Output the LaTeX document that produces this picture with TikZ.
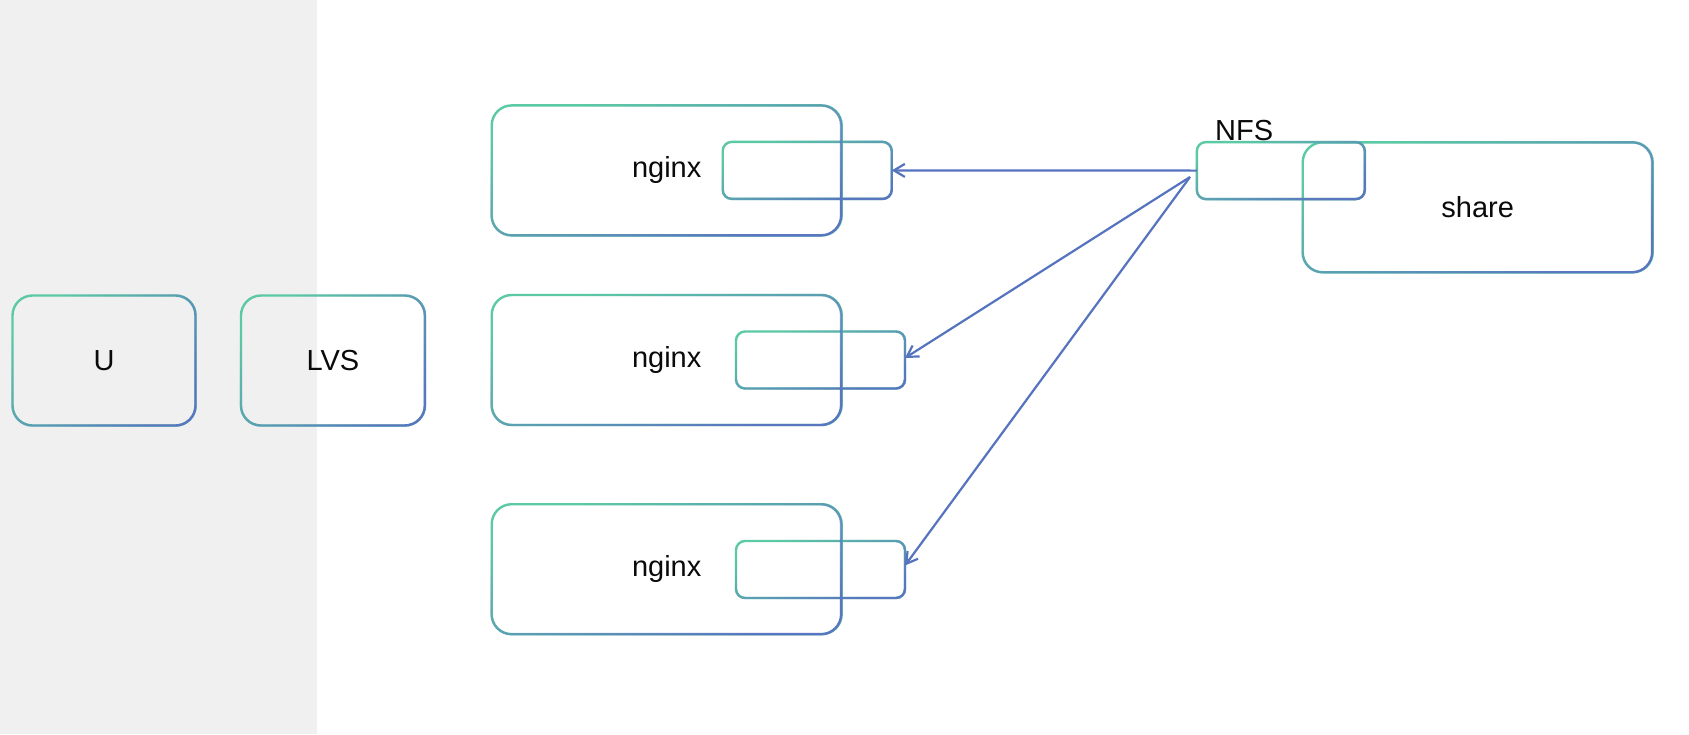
\documentclass[tikz,border=0pt]{standalone}
\usepackage{fontspec}
\setmainfont{Liberation Sans}
\usetikzlibrary{arrows.meta,fadings}
\definecolor{boxgreen}{HTML}{5CC9A5}
\definecolor{boxblue}{HTML}{5A76C0}
\definecolor{arrblue}{HTML}{5573BF}
\definecolor{bggray}{HTML}{F0F0F0}
\definecolor{txt}{HTML}{0A0A0A}
\tikzfading[name=tlbr, left color=transparent!100, right color=transparent!0]
\begin{document}
\begin{tikzpicture}[x=1pt,y=1pt,
  bigbox/.style={rectangle, draw=boxgreen, line width=2.4pt, rounded corners=20pt,
    inner sep=0pt, outer sep=0pt, minimum width=350pt, minimum height=130pt,
    font=\fontsize{29}{34}\selectfont, text=txt},
  smallbox/.style={rectangle, draw=boxgreen, line width=2.4pt, rounded corners=9pt,
    inner sep=0pt, outer sep=0pt, minimum width=169pt, minimum height=57pt},
  blueedge/.style={draw=boxblue, line width=2.4pt, path fading=tlbr, fading angle=-40},
  arr/.style={draw=arrblue, line width=2.2pt,
    -{Straight Barb[length=11pt, width=13pt]}},
  lbl/.style={font=\fontsize{29}{34}\selectfont, text=txt, inner sep=0pt}
]
\useasboundingbox (0,0) rectangle (1689,-734);
\fill[white] (0,0) rectangle (1689,-734);
\fill[bggray] (0,0) rectangle (317,-734);

% big boxes
\node[bigbox, minimum width=183pt] (U) at (104,-360.5) {U};
\node[bigbox, minimum width=184pt] (LVS) at (333,-360.5) {LVS};
\node[bigbox] (ng1) at (666.7,-170.4) {nginx};
\node[bigbox] (ng2) at (666.7,-360) {nginx};
\node[bigbox] (ng3) at (666.7,-569.2) {nginx};
\node[bigbox] (share) at (1477.7,-207.3) {share};

% small boxes
\node[smallbox] (s1) at (807.2,-170.4) {};
\node[smallbox] (s2) at (820.5,-360) {};
\node[smallbox] (s3) at (820.5,-569.5) {};
\node[smallbox, minimum width=168pt] (nfs) at (1280.8,-170.6) {};
\node[lbl, anchor=base west] (nfslbl) at (1215,-140) {NFS};

% connectors
\coordinate (src) at (1190,-177);
\draw[arr] (nfs.west) -- (s1.east);
\draw[arr] (src) -- ([yshift=2pt]s2.east);
\draw[arr] (src) -- ([yshift=4pt]s3.east);

% gradient overlay on borders
\foreach \n in {U,LVS,ng1,ng2,ng3,share}
  \draw[blueedge, rounded corners=20pt] (\n.north west) rectangle (\n.south east);
\foreach \n in {s1,s2,s3,nfs}
  \draw[blueedge, rounded corners=9pt] (\n.north west) rectangle (\n.south east);
\end{tikzpicture}
\end{document}
